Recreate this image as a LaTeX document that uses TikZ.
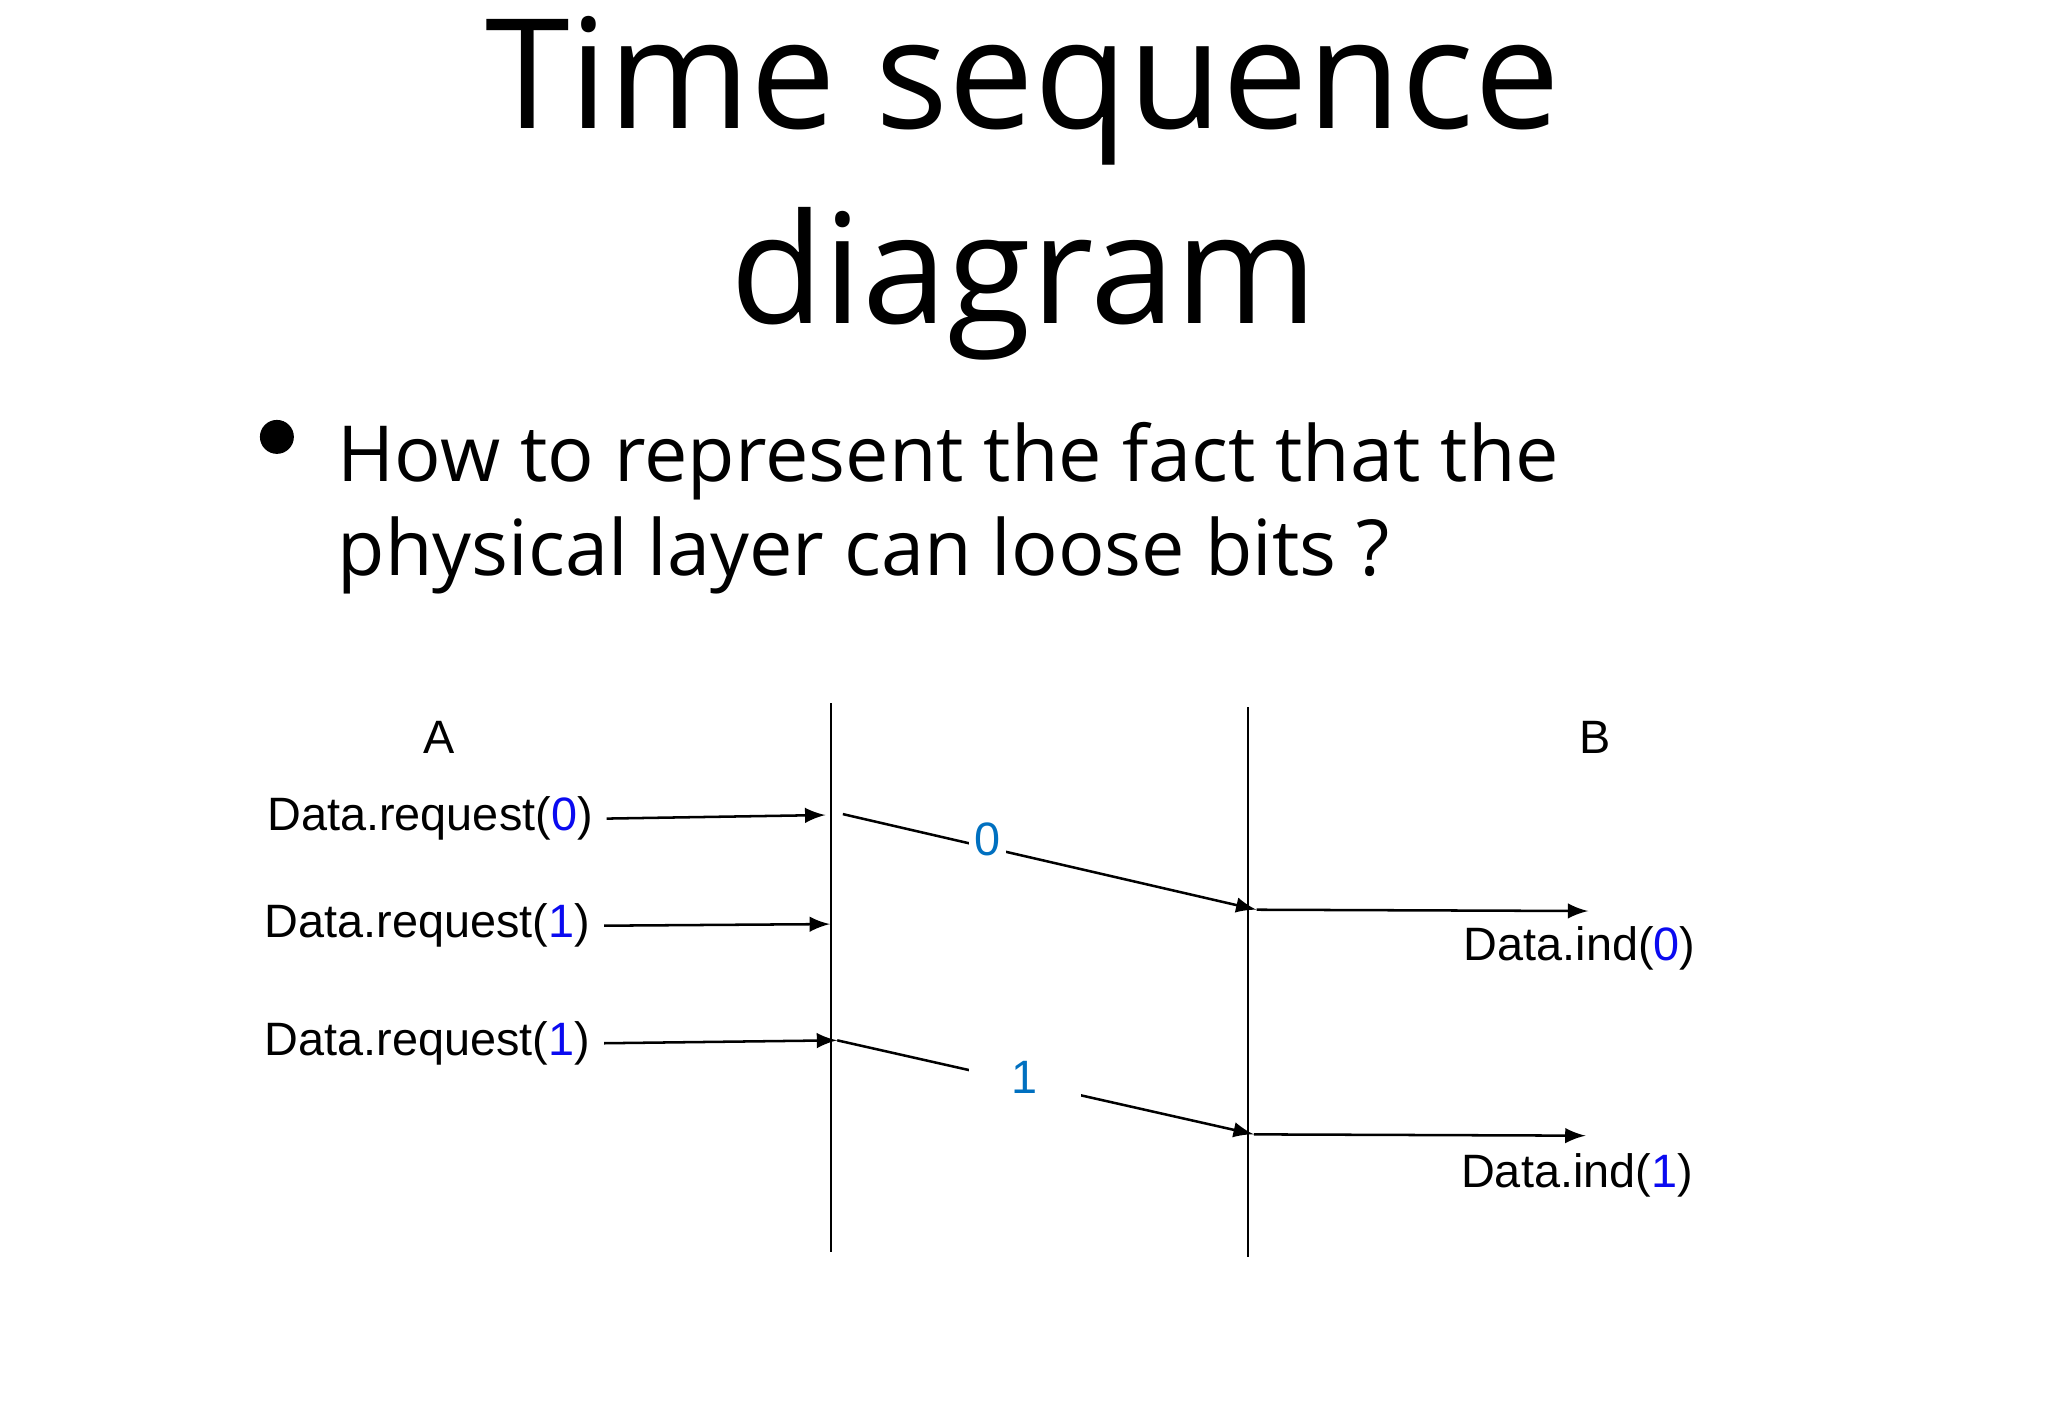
\documentclass[tikz,border=0pt]{standalone}
\usepackage{fontspec}
\setmainfont{Open Sans}
\newfontfamily\arialfont{Liberation Sans}
\usetikzlibrary{arrows}
\definecolor{bitblue}{RGB}{10,10,240}
\definecolor{lostblue}{RGB}{0,112,192}
\newcommand{\bit}[1]{\textcolor{bitblue}{#1}}
\tikzset{
  headline/.style={font=\fontsize{33.3}{42}\selectfont, anchor=base, inner sep=0pt},
  question/.style={font=\fontsize{16.85}{20.5}\selectfont, anchor=base west, inner sep=0pt},
  prim/.style={font=\arialfont\fontsize{10.2}{12}\selectfont, inner xsep=0.1cm, inner ysep=0pt},
  bitlbl/.style={font=\arialfont\fontsize{10.2}{12}\selectfont, text=lostblue, fill=white, inner sep=0.04cm},
  lifeline/.style={draw, line width=0.45pt},
  msg/.style={-latex, line width=0.55pt}
}

\begin{document}
\begin{tikzpicture}
    \useasboundingbox (0,0) rectangle (15.68,-10.86);
    \node[headline] (title1) at (7.83,-0.984) {Time sequence};
    \node[headline] (title2) at (7.84,-2.477) {diagram};
    \node[circle, fill, inner sep=0pt, minimum size=0.26cm] (dot) at (2.12,-3.345) {};
    \node[question] (line1) at (2.58,-3.688) {How to represent the fact that the};
    \node[question] (line2) at (2.58,-4.405) {physical layer can loose bits ?};

    \coordinate (Atop) at (6.36,-5.385);
    \coordinate (Abot) at (6.36,-9.585);
    \coordinate (Btop) at (9.555,-5.415);
    \coordinate (Bbot) at (9.555,-9.625);
    \draw[lifeline] (Atop) -- (Abot);
    \draw[lifeline] (Btop) -- (Bbot);
    \node[prim, anchor=base] (A) at (3.36,-5.77) {A};
    \node[prim, anchor=base] (B) at (12.21,-5.77) {B};

    \node[prim, anchor=base west] (req0) at (1.94,-6.36) {Data.request(\bit{0})};
    \node[prim, anchor=base west] (req1) at (1.92,-7.18) {Data.request(\bit{1})};
    \node[prim, anchor=base west] (req2) at (1.92,-8.08) {Data.request(\bit{1})};
    \coordinate (s0) at (6.32,-6.24);
    \coordinate (s1) at (6.355,-7.075);
    \coordinate (s2) at (6.41,-7.965);
    \draw[msg] (req0.east) -- (s0);
    \draw[msg] (req1.east) -- (s1);
    \draw[msg] (req2.east) -- (s2);

    \coordinate (d0) at (6.453,-6.233);
    \coordinate (r0) at (9.62,-6.965);
    \coordinate (r1) at (9.60,-8.685);
    \coordinate (e0) at (12.16,-6.975);
    \coordinate (e1) at (12.14,-8.695);
    \draw[msg] (d0) -- node[pos=0.35, bitlbl, yshift=0.06cm] (bit0) {0} (r0);
    \draw[msg] (s2) -- node[pos=0.45, bitlbl, minimum width=0.86cm, yshift=0.04cm] (bit1) {1} (r1);
    \draw[msg] (r0) -- (e0);
    \draw[msg] (r1) -- (e1);
    \node[prim, anchor=base west] (ind0) at (11.10,-7.35) {Data.ind(\bit{0})};
    \node[prim, anchor=base west] (ind1) at (11.08,-9.09) {Data.ind(\bit{1})};
\end{tikzpicture}
\end{document}
